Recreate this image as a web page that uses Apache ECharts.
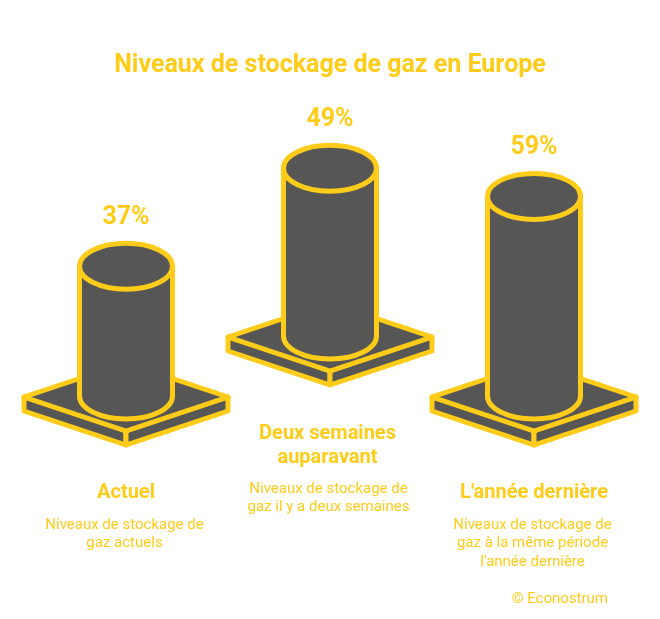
<!DOCTYPE html>
<html style="height: 100%">
<head>
<title>Niveaux de stockage de gaz en Europe</title>
<script src="https://cdn.jsdelivr.net/npm/echarts@6/dist/echarts.min.js"></script>
</head>
<body style="height: 100%; margin: 0; background: #fff">
<div id="target" style="width: 660px; height: 619px"></div>
<script>
const categories = ['Actuel', 'Deux semaines\nauparavant', "L'année dernière"];
const storageLevels = [37, 49, 59];
const descriptions = [
    'Niveaux de stockage de\ngaz actuels',
    'Niveaux de stockage de\ngaz il y a deux semaines',
    'Niveaux de stockage de\ngaz à la même période\nl\'année dernière'
];

const YELLOW = '#ffcc1a';
const LINE = 5;
const RX = 46.5, RY = 23;      // cylinder ellipse
const PLATE_W = 102, PLATE_H = 34, PLATE_T = 14;
const LIFT = [0, 60, 0];       // the middle cylinder sits higher
const NAME_Y = [493, 434, 493];
const NAME_DX = [0, -2.5, 0];
const DESC_Y = [525, 489, 525];

// the dark faces have a fine stipple
let tile = document.createElement('canvas');
tile.width = tile.height = 4;
let tileCtx = tile.getContext('2d');
tileCtx.fillStyle = '#555555';
tileCtx.fillRect(0, 0, 4, 4);
tileCtx.fillStyle = '#5f5f5a';
tileCtx.fillRect(0, 0, 1, 1);
tileCtx.fillRect(2, 2, 1, 1);
const DARK = { image: tile, repeat: 'repeat' };

let chart = echarts.init(document.getElementById('target'), null, { renderer: 'canvas' });

function text(x, y, str, size, weight, lineHeight, vAlign) {
    return {
        type: 'text',
        style: {
            x: x, y: y, text: str,
            fill: YELLOW,
            font: weight + ' ' + size + 'px Roboto',
            align: 'center',
            verticalAlign: vAlign,
            lineHeight: lineHeight
        }
    };
}

function renderCylinder(params, api) {
    let i = params.dataIndex;
    let top = api.coord([i, api.value(1)]);
    let x = top[0];
    let topY = top[1] - LIFT[i];
    let botY = api.coord([i, 0])[1] + 12 - LIFT[i];
    let stroke = { fill: DARK, stroke: YELLOW, lineWidth: LINE, lineJoin: 'round' };
    let plate = botY + 1;

    return {
        type: 'group',
        children: [
            // plate side faces
            { type: 'polygon', shape: { points: [[x - PLATE_W, plate], [x, plate + PLATE_H], [x, plate + PLATE_H + PLATE_T], [x - PLATE_W, plate + PLATE_T]] }, style: stroke },
            { type: 'polygon', shape: { points: [[x + PLATE_W, plate], [x, plate + PLATE_H], [x, plate + PLATE_H + PLATE_T], [x + PLATE_W, plate + PLATE_T]] }, style: stroke },
            // plate top face
            { type: 'polygon', shape: { points: [[x - PLATE_W, plate], [x, plate - PLATE_H], [x + PLATE_W, plate], [x, plate + PLATE_H]] }, style: stroke },
            // cylinder
            { type: 'ellipse', shape: { cx: x, cy: botY, rx: RX, ry: RY }, style: stroke },
            { type: 'rect', shape: { x: x - RX, y: topY, width: RX * 2, height: botY - topY }, style: { fill: DARK } },
            { type: 'line', shape: { x1: x - RX, y1: topY, x2: x - RX, y2: botY }, style: { stroke: YELLOW, lineWidth: LINE } },
            { type: 'line', shape: { x1: x + RX, y1: topY, x2: x + RX, y2: botY }, style: { stroke: YELLOW, lineWidth: LINE } },
            { type: 'ellipse', shape: { cx: x, cy: topY, rx: RX, ry: RY }, style: stroke },
            // labels
            text(x, topY - 49 + (i === 1 ? 1 : 0), api.value(1) + '%', 25, 'bold', null, 'middle'),
            text(x + NAME_DX[i], NAME_Y[i] - 12, categories[i], 20, 'bold', 24, 'top'),
            text(x - 1.5, DESC_Y[i] - 9.5, descriptions[i], 15, 'normal', 18.7, 'top')
        ]
    };
}

let option = {
    animation: false,
    backgroundColor: '#fff',
    title: [
        {
            text: 'Niveaux de stockage de gaz en Europe',
            left: 325, top: 48, textAlign: 'center',
            textStyle: { color: YELLOW, fontFamily: 'Roboto', fontWeight: 'bold', fontSize: 25 }
        },
        {
            text: '© Econostrum',
            left: 603, top: 587, textAlign: 'right',
            textStyle: { color: YELLOW, fontFamily: 'Roboto', fontWeight: 'normal', fontSize: 15 }
        }
    ],
    grid: { left: 24, width: 612, top: 66, height: 318 },
    xAxis: { type: 'category', data: categories, show: false },
    yAxis: { type: 'value', min: 0, max: 100, show: false },
    series: [
        {
            type: 'custom',
            clip: false,
            silent: true,
            data: storageLevels.map((v, i) => [i, v]),
            encode: { x: 0, y: 1 },
            renderItem: renderCylinder
        }
    ]
};
chart.setOption(option);
</script>
</body>
</html>
